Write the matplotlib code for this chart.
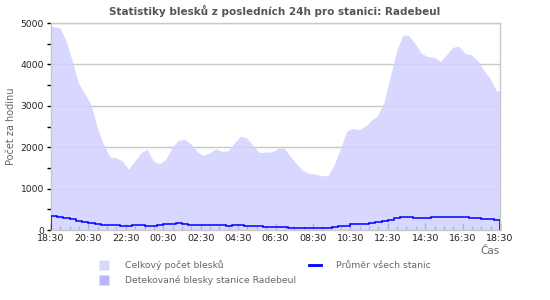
import numpy as np
import matplotlib
matplotlib.use('Agg')
import matplotlib.pyplot as plt
from matplotlib.lines import Line2D

# %% data (20 minute bins, starting 18:30)

celkem = [4900, 4880, 4560, 4060, 3530, 3280, 3020, 2460, 2060, 1760,
          1730, 1660, 1460, 1650, 1850, 1940, 1650, 1590, 1700, 1990,
          2150, 2180, 2070, 1880, 1790, 1850, 1950, 1890, 1900, 2090,
          2255, 2210, 2020, 1856, 1870, 1875, 1960, 1961, 1750, 1580,
          1420, 1356, 1340, 1300, 1300, 1570, 1950, 2380, 2440, 2410,
          2500, 2640, 2760, 3090, 3700, 4320, 4700, 4680, 4480, 4250,
          4181, 4160, 4060, 4220, 4400, 4430, 4250, 4220, 4080, 3840,
          3650, 3350]

radebeul = [0] * 72

prumer = [339, 307, 283, 259, 226, 202, 161, 150, 113, 113,
          113, 97, 97, 113, 113, 97, 97, 121, 137, 137,
          161, 137, 125, 113, 113, 113, 113, 113, 97, 113,
          113, 97, 97, 97, 81, 81, 65, 65, 40, 40,
          40, 40, 40, 40, 40, 65, 97, 97, 137, 137,
          137, 161, 202, 222, 242, 283, 323, 307, 283, 291,
          299, 307, 307, 315, 323, 315, 315, 299, 299, 270,
          256, 242]

tick_labels = ['18:30', '20:30', '22:30', '00:30', '02:30', '04:30', '06:30',
               '08:30', '10:30', '12:30', '14:30', '16:30', '18:30']

edges = np.arange(len(celkem) + 1) / 3.0
centers = (edges[:-1] + edges[1:]) / 2

# outline through bin centres, held flat to the outer edges
x_area = np.concatenate([[edges[0]], centers, [edges[-1]]])
y_area = np.concatenate([[celkem[0]], celkem, [celkem[-1]]])

# %% plot

fig = plt.figure(figsize=(5.5, 3), dpi=100)
ax = fig.add_axes([51 / 550, 1 - 230 / 300, 449 / 550, 207 / 300])

ax.yaxis.grid(True, color='#c8c8c8', linewidth=1)
ax.set_axisbelow(True)

ax.fill_between(x_area, 0, y_area, facecolor='#d1d1ff', alpha=0.85,
                linewidth=0, zorder=2)
ax.stairs(radebeul, edges, fill=True, facecolor='#b8b8fb', linewidth=0,
          zorder=3)
ax.stairs(prumer, edges, color='#0000ff', linewidth=1.1, zorder=4)

ax.set_xlim(0, 24)
ax.set_ylim(0, 5000)
ax.set_xticks(np.arange(0, 25, 2))
ax.set_xticklabels(tick_labels)
ax.set_xticks(np.arange(0, 24.1, 0.5), minor=True)
ax.set_yticks(np.arange(0, 5001, 1000))
ax.set_yticks(np.arange(500, 5000, 1000), minor=True)

ax.tick_params(axis='x', which='major', direction='in', length=5, width=1,
               color='black', labelsize=6.8, labelcolor='#222222', pad=3)
ax.tick_params(axis='x', which='minor', direction='in', length=3, width=1,
               color='black')
ax.tick_params(axis='y', which='both', direction='out', length=3, width=1,
               color='black', labelsize=6.6, labelcolor='#222222', pad=2)

for s in ax.spines.values():
    s.set_color('#c8c8c8')
    s.set_linewidth(1)

ax.set_ylabel('Počet za hodinu', fontsize=7, color='#666666')
ax.yaxis.set_label_coords(-0.078, 0.5)
ax.set_xlabel('Čas', fontsize=7.5, color='#666666', loc='right', labelpad=2)

fig.text(0.5, 1 - 11 / 300, 'Statistiky blesků z posledních 24h pro stanici: Radebeul',
         ha='center', va='center', fontsize=7.5, fontweight='bold', color='#555555')

handles = [
    Line2D([], [], marker='s', linestyle='none', markersize=6.5,
           markerfacecolor='#d8d8fe', markeredgecolor='none'),
    Line2D([], [], marker='s', linestyle='none', markersize=6.5,
           markerfacecolor='#b8b8fb', markeredgecolor='none'),
    Line2D([], [], color='#0000ff', linewidth=2),
]
labels = ['Celkový počet blesků', 'Detekované blesky stanice Radebeul',
          'Průměr všech stanic']
leg = fig.legend(handles, labels, loc='upper left', ncol=2, frameon=False,
                 bbox_to_anchor=(98 / 550, 1 - 260 / 300), fontsize=6.7,
                 handlelength=1.3, handletextpad=1.6, columnspacing=1.4,
                 labelspacing=0.65, borderpad=0, borderaxespad=0)
for t in leg.get_texts():
    t.set_color('#666666')

fig.savefig('out.png', dpi=100)
